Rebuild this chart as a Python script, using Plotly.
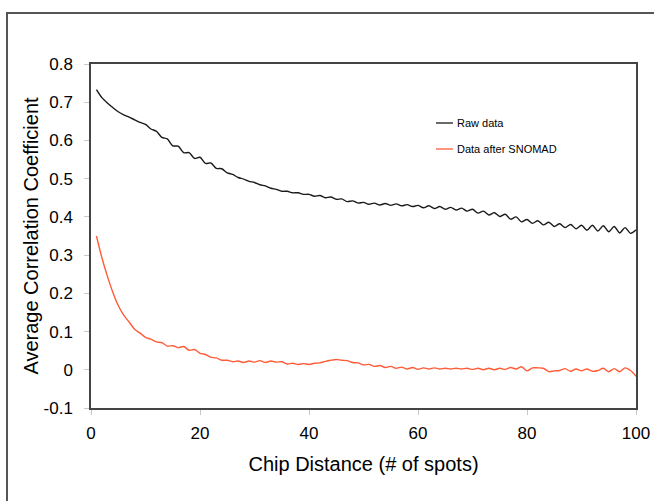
import plotly.graph_objects as go

chip_distance = list(range(1, 101))

raw_data = [
    0.733, 0.712, 0.698, 0.686, 0.675, 0.667, 0.661, 0.654, 0.647, 0.642,
    0.630, 0.624, 0.608, 0.604, 0.586, 0.585, 0.568, 0.568, 0.553, 0.556,
    0.540, 0.541, 0.527, 0.526, 0.515, 0.511, 0.503, 0.499, 0.493, 0.490,
    0.484, 0.481, 0.475, 0.472, 0.467, 0.467, 0.463, 0.463, 0.459, 0.459,
    0.454, 0.456, 0.450, 0.452, 0.446, 0.447, 0.440, 0.442, 0.436, 0.438,
    0.433, 0.436, 0.431, 0.435, 0.430, 0.434, 0.429, 0.432, 0.427, 0.430,
    0.424, 0.429, 0.422, 0.427, 0.420, 0.425, 0.418, 0.423, 0.415, 0.420,
    0.410, 0.415, 0.405, 0.411, 0.401, 0.407, 0.394, 0.400, 0.387, 0.393,
    0.383, 0.390, 0.379, 0.386, 0.375, 0.382, 0.372, 0.380, 0.369, 0.378,
    0.365, 0.378, 0.363, 0.377, 0.361, 0.375, 0.358, 0.372, 0.357, 0.366,
]

snomad_data = [
    0.350, 0.293, 0.245, 0.203, 0.168, 0.143, 0.125, 0.106, 0.096, 0.085,
    0.080, 0.073, 0.071, 0.062, 0.063, 0.058, 0.061, 0.051, 0.053, 0.043,
    0.040, 0.033, 0.031, 0.025, 0.025, 0.021, 0.023, 0.019, 0.023, 0.020,
    0.024, 0.019, 0.023, 0.020, 0.021, 0.015, 0.017, 0.014, 0.016, 0.014,
    0.017, 0.018, 0.022, 0.025, 0.027, 0.025, 0.024, 0.019, 0.018, 0.013,
    0.014, 0.009, 0.011, 0.006, 0.009, 0.004, 0.007, 0.002, 0.006, 0.001,
    0.005, 0.002, 0.005, 0.002, 0.004, 0.002, 0.004, 0.002, 0.004, 0.001,
    0.004, 0.000, 0.004, 0.000, 0.004, 0.001, 0.006, 0.002, 0.008, -0.003,
    0.005, 0.005, 0.004, -0.005, -0.003, -0.002, 0.003, -0.004, 0.002, -0.003,
    0.002, -0.004, -0.002, 0.004, -0.005, 0.003, -0.005, 0.005, -0.002, -0.017,
]

series_names = ["Raw data", "Data after SNOMAD"]
series_colors = ["#1a1a1a", "#ff5c38"]

y_tick_vals = [-0.1, 0, 0.1, 0.2, 0.3, 0.4, 0.5, 0.6, 0.7, 0.8]
y_tick_text = ["-0.1", "0", "0.1", "0.2", "0.3", "0.4", "0.5", "0.6", "0.7", "0.8"]
x_tick_vals = [0, 20, 40, 60, 80, 100]

FONT = "Arial, Liberation Sans, sans-serif"

fig = go.Figure()
for name, ys, col in zip(series_names, [raw_data, snomad_data], series_colors):
    fig.add_trace(go.Scatter(x=chip_distance, y=ys, mode="lines", name=name,
                             line=dict(color=col, width=1.4, shape="spline", smoothing=0.8),
                             showlegend=False))

W, H = 654, 501
L, R, T, B = 91, 18, 64, 93
pw, ph = W - L - R, H - T - B

def px_x(p):
    return (p - L) / pw

def px_y(p):
    return (H - B - p) / ph

shapes = [
    dict(type="rect", xref="paper", yref="paper", x0=px_x(7), x1=px_x(700),
         y0=px_y(560), y1=px_y(13), line=dict(color="#555555", width=2)),
]
annotations = []
legend_rows = [123, 149]
for name, col, yy in zip(series_names, series_colors, legend_rows):
    shapes.append(dict(type="line", xref="paper", yref="paper",
                       x0=px_x(436), x1=px_x(453), y0=px_y(yy), y1=px_y(yy),
                       line=dict(color=col, width=1.3)))
    annotations.append(dict(xref="paper", yref="paper", x=px_x(455), y=px_y(yy),
                            text=name, showarrow=False, xanchor="left", yanchor="middle",
                            font=dict(family=FONT, size=11, color="#000")))

fig.update_layout(
    width=W, height=H,
    margin=dict(l=L, r=R, t=T, b=B, autoexpand=False),
    paper_bgcolor="white", plot_bgcolor="white",
    font=dict(family=FONT, color="#000"),
    shapes=shapes, annotations=annotations,
    xaxis=dict(range=[0, 100], tickvals=x_tick_vals, ticks="outside", ticklen=5,
               tickcolor="#c8c8c8", showgrid=False, zeroline=False, showline=True,
               linecolor="#444444", linewidth=1.5, mirror=True, automargin=False,
               ticklabelstandoff=4,
               tickfont=dict(size=17, family=FONT),
               title=dict(text="Chip Distance (# of spots)", font=dict(size=20, family=FONT),
                          standoff=15)),
    yaxis=dict(range=[-0.1, 0.8], tickvals=y_tick_vals, ticktext=y_tick_text,
               ticks="outside", ticklen=5, tickcolor="#c8c8c8", showgrid=False,
               zeroline=False, showline=True, linecolor="#444444", linewidth=1.5,
               mirror=True, automargin=False, ticklabelstandoff=8,
               tickfont=dict(size=17, family=FONT),
               title=dict(text="Average Correlation Coefficient",
                          font=dict(size=20, family=FONT), standoff=0)),
)

fig.write_html("out.html", config={"displayModeBar": False},
               post_script="document.body.style.margin='0';")
